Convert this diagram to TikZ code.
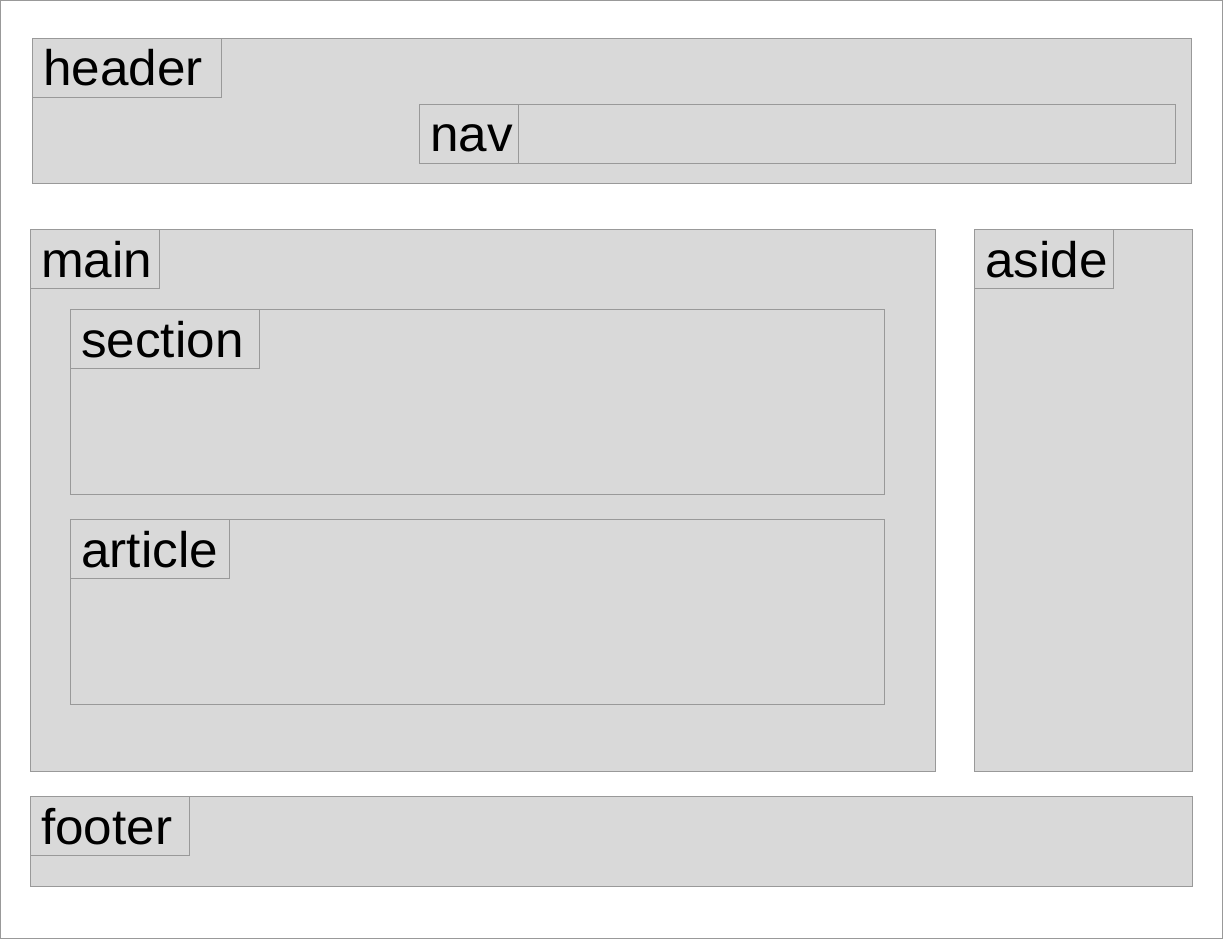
\documentclass[tikz,border=0pt]{standalone}
\usepackage{fontspec}
\setmainfont[FakeStretch=1.025]{Liberation Sans}
\begin{document}
\begin{tikzpicture}[x=1pt,y=-1pt,
  region/.style={draw=gbord,fill=gfill,line width=1pt},
  tag/.style={draw=gbord,line width=1pt},
  lbl/.style={anchor=base west,inner sep=0pt,font=\fontsize{50}{60}\selectfont,text=black}]
\definecolor{gbord}{HTML}{999999}
\definecolor{gfill}{HTML}{D9D9D9}
\useasboundingbox (0,0) rectangle (1223,939);
\draw[draw=gbord,line width=1pt] (0.5,0.5) rectangle (1222.5,938.5);
% header
\draw[region] (32.5,38.5) rectangle (1191.5,183.5);
\draw[tag] (32.5,38.5) rectangle (221.5,97.5);
\node[lbl] (header) at (43,86) {header};
% nav
\draw[region] (419.5,104.5) rectangle (1175.5,163.5);
\draw[tag] (419.5,104.5) rectangle (518.5,163.5);
\node[lbl] (nav) at (430,152) {nav};
% main
\draw[region] (30.5,229.5) rectangle (935.5,771.5);
\draw[tag] (30.5,229.5) rectangle (159.5,288.5);
\node[lbl] (main) at (41,277) {main};
% section
\draw[region] (70.5,309.5) rectangle (884.5,494.5);
\draw[tag] (70.5,309.5) rectangle (259.5,368.5);
\node[lbl] (section) at (81,357) {section};
% article
\draw[region] (70.5,519.5) rectangle (884.5,704.5);
\draw[tag] (70.5,519.5) rectangle (229.5,578.5);
\node[lbl] (article) at (81,567) {article};
% aside
\draw[region] (974.5,229.5) rectangle (1192.5,771.5);
\draw[tag] (974.5,229.5) rectangle (1113.5,288.5);
\node[lbl] (aside) at (985,277) {aside};
% footer
\draw[region] (30.5,796.5) rectangle (1192.5,886.5);
\draw[tag] (30.5,796.5) rectangle (189.5,855.5);
\node[lbl] (footer) at (41,844) {footer};
\end{tikzpicture}
\end{document}
